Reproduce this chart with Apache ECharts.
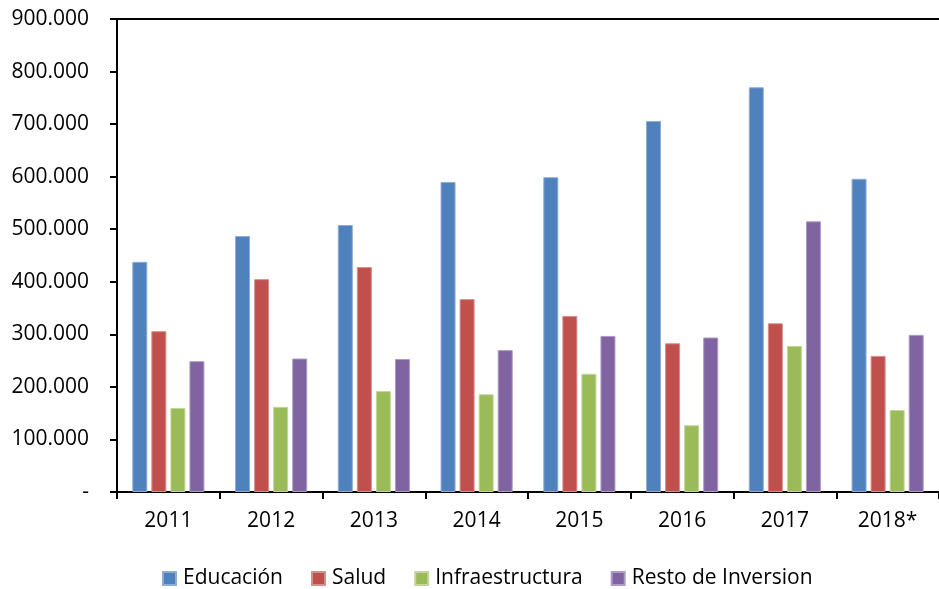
<!DOCTYPE html>
<html><head><meta charset="utf-8">
<script src="https://cdn.jsdelivr.net/npm/echarts@6/dist/echarts.min.js"></script>
<style>html,body{margin:0;padding:0;background:#fff}#c{width:939px;height:589px}</style>
</head><body><div id="c"></div>
<script>
const categories = ['2011','2012','2013','2014','2015','2016','2017','2018*'];
const educacion = [438000, 487000, 508000, 590000, 599000, 706000, 770000, 596000];
const salud = [306000, 405000, 428000, 367000, 335000, 283000, 321000, 259000];
const infraestructura = [160000, 162000, 192000, 186000, 225000, 127000, 278000, 156000];
const resto = [249000, 254000, 253000, 270000, 297000, 294000, 515000, 299000];
const yTicks = [0, 100000, 200000, 300000, 400000, 500000, 600000, 700000, 800000, 900000];

const names = ['Educación','Salud','Infraestructura','Resto de Inversion'];
const colors = ['#4F81BD','#C0504D','#9BBB59','#8064A2'];
const borders = ['#8EADD6','#D98E8C','#C3D79D','#AE9CC4'];
const values = [educacion, salud, infraestructura, resto];
const font = 'Open Sans';
const fs = 21;

function fmt(v){
  if (v === 0) return '-';
  return String(v).replace(/\B(?=(\d{3})+(?!\d))/g, '.');
}

const chart = echarts.init(document.getElementById('c'));
chart.setOption({
  animation: false,
  textStyle: { fontFamily: font },
  legend: {
    top: 563, left: 157,
    itemWidth: 13, itemHeight: 13, itemGap: 28,
    icon: 'rect',
    textStyle: { fontFamily: font, fontSize: fs, color: '#000', padding: [0, 0, 0, 2] },
    data: names
  },
  grid: { left: 117, right: -7, top: 19, bottom: 97, containLabel: false },
  xAxis: [{
    type: 'category', data: categories,
    axisLine: { lineStyle: { color: '#000', width: 2 } },
    axisTick: { show: true, length: 7, lineStyle: { color: '#000', width: 2 }, alignWithLabel: false },
    axisLabel: { fontFamily: font, fontSize: fs, color: '#000', margin: 19 }
  }, {
    type: 'category', data: categories, position: 'top',
    axisLine: { show: true, lineStyle: { color: '#000', width: 2 } },
    axisTick: { show: false }, axisLabel: { show: false }
  }],
  yAxis: {
    type: 'value', min: 0, max: 900000, interval: 100000,
    axisLine: { show: true, lineStyle: { color: '#000', width: 2 } },
    axisTick: { show: true, length: 7, lineStyle: { color: '#000', width: 2 } },
    splitLine: { show: false },
    axisLabel: { fontFamily: font, fontSize: fs, color: '#000', margin: 28,
      formatter: function(v){ return yTicks.indexOf(v) >= 0 ? fmt(v) : ''; } }
  },
  series: names.map((n, i) => ({
    name: n, type: 'bar', xAxisIndex: 0, data: values[i],
    barWidth: 15, barGap: '27%',
    itemStyle: { color: colors[i], borderColor: borders[i], borderWidth: 1 }
  }))
});
</script></body></html>
